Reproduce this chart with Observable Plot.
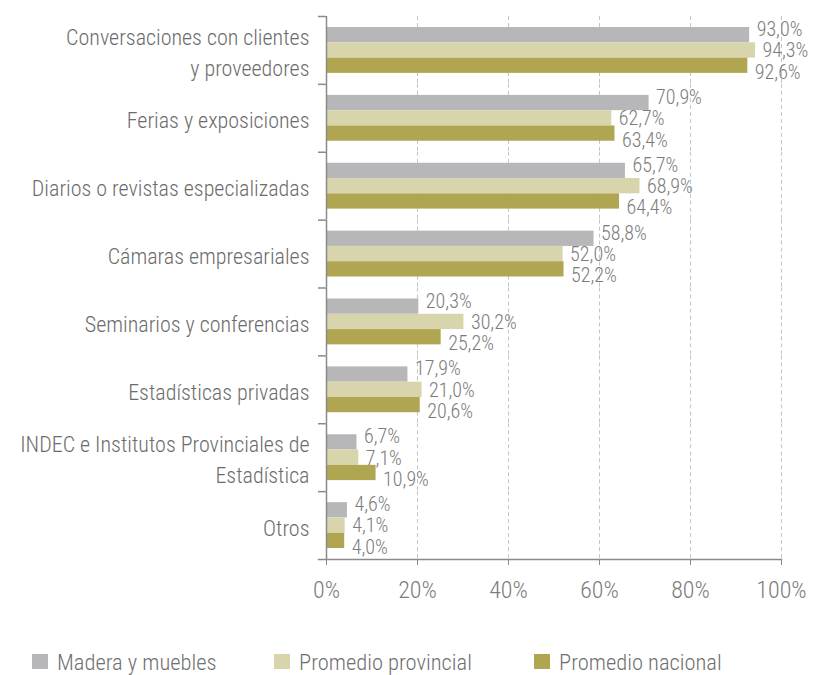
<!DOCTYPE html>
<html><head><meta charset="utf-8">
<script src="https://cdn.jsdelivr.net/npm/d3@7"></script>
<script src="https://cdn.jsdelivr.net/npm/@observablehq/plot@0.6"></script>
<style>
body{margin:0;background:#fff;font-family:"Roboto Condensed","DejaVu Sans Condensed",sans-serif;font-weight:300;}
#legend{position:relative;height:50px;width:819px;}
.item{position:absolute;top:25px;height:24px;line-height:24px;font-size:22.5px;color:#707070;white-space:nowrap;}
.sw{position:absolute;left:0;top:4px;width:16px;height:15px;}
.lt{position:absolute;left:25px;top:0;}
</style></head><body><div id="chart"></div><div id="legend"></div>
<script>
const categories = ["Conversaciones con clientes\ny proveedores","Ferias y exposiciones","Diarios o revistas especializadas","Cámaras empresariales","Seminarios y conferencias","Estadísticas privadas","INDEC e Institutos Provinciales de\nEstadística","Otros"];
const series = ["Madera y muebles","Promedio provincial","Promedio nacional"];
const madera = [93.0,70.9,65.7,58.8,20.3,17.9,6.7,4.6];
const provincial = [94.3,62.7,68.9,52.0,30.2,21.0,7.1,4.1];
const nacional = [92.6,63.4,64.4,52.2,25.2,20.6,10.9,4.0];
const xTicks = [0,20,40,60,80,100];
const colors = ["#b7b7b9","#d8d5ac","#b0a652"];

const valuesBySeries = [madera, provincial, nacional];
const data = categories.flatMap((c,i)=> series.map((s,j)=>({category:c, series:s, value:valuesBySeries[j][i]})));

const W=819, H=625, mT=16, mB=66, mL=326, mR=38;
const step = (H-mT-mB)/categories.length;
const fmt = v => d3.format(".1f")(v).replace(".",",")+"%";
const labelDy = [-5.5,0.5,6.5];
const font = '"Roboto Condensed","DejaVu Sans Condensed",sans-serif';

const chart = Plot.plot({
  width:W, height:H, marginLeft:mL, marginRight:mR, marginTop:mT, marginBottom:mB,
  style:{fontFamily:font, fontWeight:300, color:"#707070", background:"#fff"},
  x:{domain:[0,100]},
  y:{domain:series, paddingInner:0, paddingOuter:0.72, round:false, axis:null},
  fy:{domain:categories, padding:0, round:false},
  color:{domain:series, range:colors},
  marks:[
    Plot.ruleX(xTicks.slice(1), {stroke:"#c4c4c4", strokeDasharray:"4,3"}),
    Plot.barX(data, {fy:"category", y:"series", x:"value", fill:"series"}),
    ...series.map((s,j)=>Plot.text(data.filter(d=>d.series===s), {fy:"category", y:"series", x:"value", text:d=>fmt(d.value), dx:7, dy:labelDy[j], textAnchor:"start", fill:"#7c7c7c", fontSize:20})),
    Plot.ruleX([0], {stroke:"#8a8a8a", strokeWidth:1.5}),
    Plot.axisFy({anchor:"left", tickSize:0, tickPadding:17, fontSize:22, lineHeight:1.41, label:null, fill:"#6c6c6c"}),
    Plot.axisFy({anchor:"left", tickSize:8, tickFormat:()=>"", label:null, dy:-step/2, stroke:"#8a8a8a", strokeWidth:1.5}),
    Plot.frame({anchor:"bottom", facetAnchor:"bottom", stroke:"#8a8a8a", strokeWidth:1.5, insetLeft:-8}),
    Plot.axisX({ticks:xTicks, tickFormat:d=>d+"%", tickSize:6, tickPadding:15, fontSize:24, label:null, stroke:"#8a8a8a", fill:"#7c7c7c"})
  ]
});
document.getElementById("chart").appendChild(chart);

const legend = document.getElementById("legend");
const lx = [32,274,534];
series.forEach((s,j)=>{
  const it = document.createElement("div");
  it.className="item"; it.style.left=lx[j]+"px";
  it.innerHTML = `<span class="sw" style="background:${colors[j]}"></span><span class="lt">${s}</span>`;
  legend.appendChild(it);
});
</script></body></html>
